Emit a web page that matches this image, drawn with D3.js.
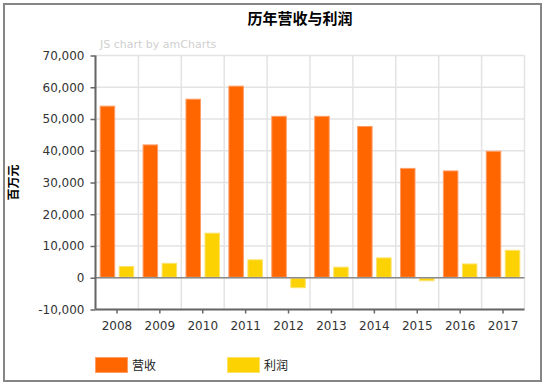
<!DOCTYPE html>
<html>
<head>
<meta charset="utf-8">
<script src="https://cdn.jsdelivr.net/npm/d3@7"></script>
<style>
html,body{margin:0;padding:0;background:#fff;}
svg{display:block;font-family:"DejaVu Sans","Noto Sans CJK SC",sans-serif;}
</style>
</head>
<body>
<svg id="chart" width="546" height="386"></svg>
<script>
const categories = ["2008","2009","2010","2011","2012","2013","2014","2015","2016","2017"];
const revenue = [54200, 42000, 56400, 60500, 51000, 51000, 47800, 34600, 33800, 40000];
const profit  = [3700, 4700, 14200, 5800, -3300, 3500, 6400, -1100, 4500, 8800];
const seriesNames = ["营收", "利润"];
const seriesColors = ["#FF6600", "#FCD202"];
const seriesStrokes = ["#FF9D66", "#FDE26A"];
const yTicks = [-10000, 0, 10000, 20000, 30000, 40000, 50000, 60000, 70000];
const chartTitle = "历年营收与利润";
const yTitle = "百万元";

const svg = d3.select("#chart");
const pL = 95.5, pR = 524.5, pT = 55.5, pB = 309.5;

// outer border
svg.append("rect").attr("x", 4).attr("y", 4).attr("width", 537).attr("height", 377)
  .attr("fill", "#fff").attr("stroke", "#858585").attr("stroke-width", 2);

const x = d3.scaleBand().domain(categories).range([pL, pR]).paddingInner(0).paddingOuter(0);
const y = d3.scaleLinear().domain([-10000, 70000]).range([pB, pT]);
const inner = d3.scaleBand().domain([0, 1]).range([0, x.bandwidth()]).paddingInner(0.184).paddingOuter(0.22);

// grid
const g = svg.append("g");
g.selectAll(".hg").data(yTicks).join("line")
  .attr("x1", pL).attr("x2", pR)
  .attr("y1", d => y(d)).attr("y2", d => y(d))
  .attr("stroke", "#e3e3e3").attr("stroke-width", 1.5);
const vLines = categories.map(c => x(c) + x.bandwidth()).concat([pL]);
g.selectAll(".vg").data(vLines).join("line")
  .attr("x1", d => d).attr("x2", d => d)
  .attr("y1", pT).attr("y2", pB)
  .attr("stroke", "#e3e3e3").attr("stroke-width", 1.5);

// watermark
svg.append("text").attr("x", 100).attr("y", 48).attr("font-size", 11)
  .attr("fill", "#cfcfcf").text("JS chart by amCharts");

// bars
const data = categories.map((c, i) => ({c, v: [revenue[i], profit[i]]}));
const groups = svg.append("g").selectAll("g").data(data).join("g")
  .attr("transform", d => `translate(${x(d.c)},0)`);
groups.selectAll("rect").data(d => d.v.map((v, k) => ({v, k}))).join("rect")
  .attr("x", d => inner(d.k) + 0.5)
  .attr("width", inner.bandwidth() - 1)
  .attr("y", d => Math.min(y(d.v), y(0)) + 0.5)
  .attr("height", d => Math.max(0, Math.abs(y(d.v) - y(0)) - 1))
  .attr("fill", d => seriesColors[d.k])
  .attr("stroke", d => seriesStrokes[d.k]).attr("stroke-width", 1);

// zero line
svg.append("line").attr("x1", pL).attr("x2", pR)
  .attr("y1", y(0)).attr("y2", y(0)).attr("stroke", "#8a8a8a").attr("stroke-width", 1.5);

// axes
const fmt = d3.format(",");
const yAxis = d3.axisLeft(y).tickValues(yTicks).tickSize(5).tickPadding(6)
  .tickFormat(d => fmt(d).replace("\u2212", "-"));
const ya = svg.append("g").attr("transform", `translate(${pL},0)`).call(yAxis);
const xAxis = d3.axisBottom(x).tickSize(4).tickPadding(8);
const xa = svg.append("g").attr("transform", `translate(0,${pB})`).call(xAxis);
[ya, xa].forEach(a => {
  a.select(".domain").attr("stroke", "#666").attr("stroke-width", 2);
  a.selectAll(".tick line").attr("stroke", "#666").attr("stroke-width", 1.5);
  a.selectAll(".tick text").attr("fill", "#333").attr("font-size", 12)
    .attr("font-family", "DejaVu Sans, sans-serif");
});
xa.select(".domain").attr("d", `M${pL},0H${pR}`);
ya.select(".domain").attr("d", `M0,${pT}V${pB}`);

// title
svg.append("text").attr("x", 300).attr("y", 24).attr("text-anchor", "middle")
  .attr("font-size", 15).attr("font-weight", "bold").attr("fill", "#000").text(chartTitle);

// y title
svg.append("text").attr("transform", `translate(18,${(pT + pB) / 2}) rotate(-90)`)
  .attr("text-anchor", "middle").attr("font-size", 12).attr("font-weight", "bold")
  .attr("fill", "#000").text(yTitle);

// legend
const lx = [95, 227];
const leg = svg.append("g").selectAll("g").data(seriesNames).join("g")
  .attr("transform", (d, i) => `translate(${lx[i]},357)`);
leg.append("rect").attr("x", 0.5).attr("y", 0.5).attr("width", 32).attr("height", 15)
  .attr("fill", (d, i) => seriesColors[i]).attr("stroke", (d, i) => seriesStrokes[i]);
leg.append("text").attr("x", 37).attr("y", 13).attr("font-size", 12)
  .attr("fill", "#222").text(d => d);
</script>
</body>
</html>
